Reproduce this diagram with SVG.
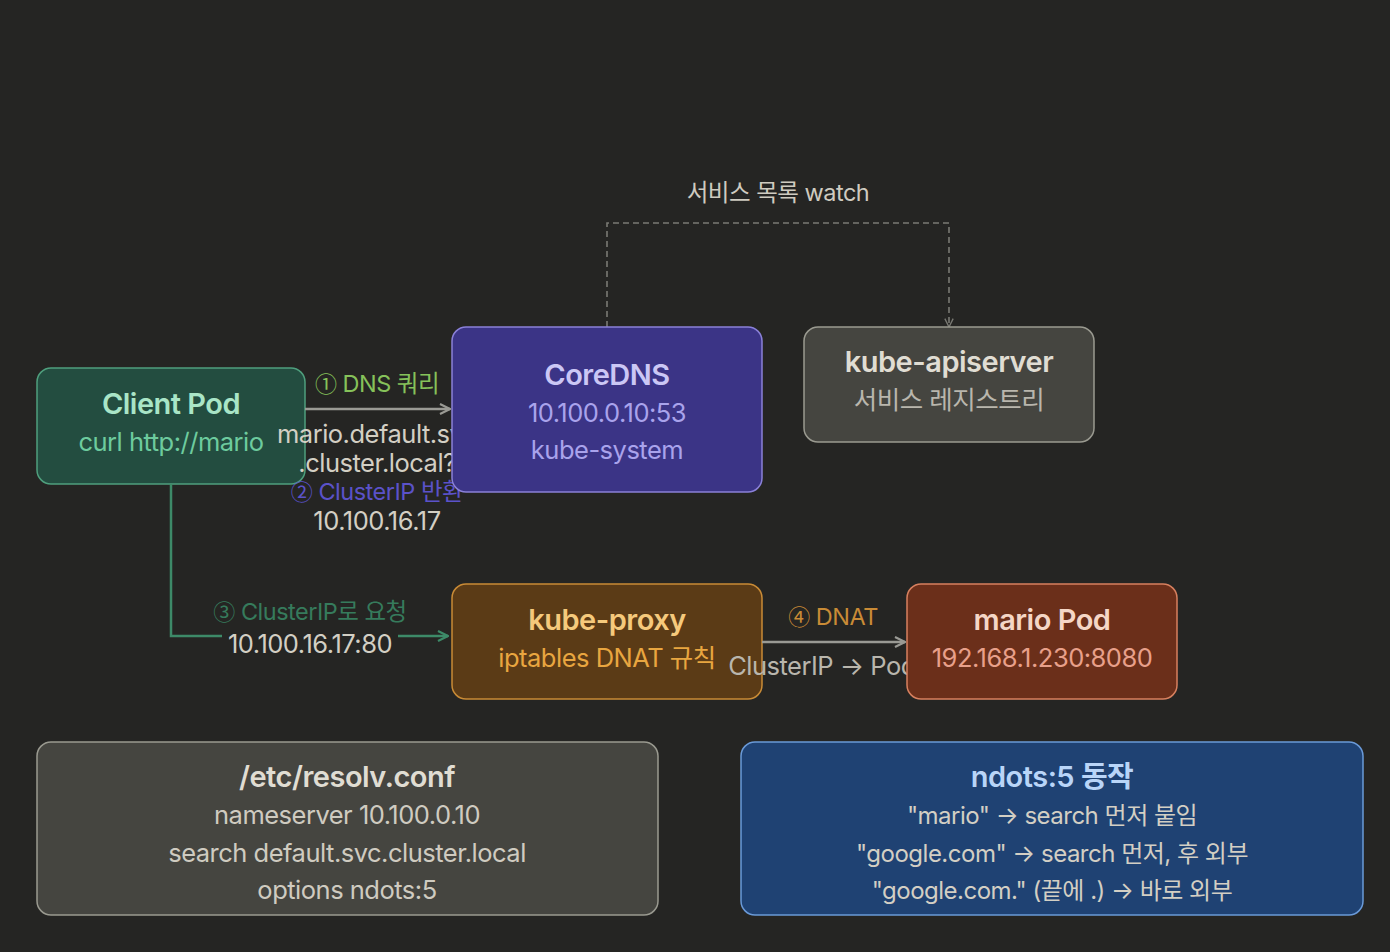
<svg xmlns="http://www.w3.org/2000/svg" width="1390" height="952" viewBox="0 0 1390 952">
<defs>
<style>
text{font-family:Inter,"Noto Sans","Noto Sans CJK KR",sans-serif;text-anchor:middle;letter-spacing:-0.5px}
.t{font-size:29px;font-weight:600}
.s{font-size:25.5px}
.s2{font-size:24px}
.lbl{font-size:23.5px}
.n{font-family:"Noto Sans CJK KR",sans-serif;font-size:22px}
</style>
<marker id="ag" viewBox="0 0 12 12" refX="11" refY="6" markerWidth="12" markerHeight="12" markerUnits="userSpaceOnUse" orient="auto"><path d="M1 1 L11 6 L1 11" fill="none" stroke="#9a9a94" stroke-width="2.2"/></marker>
<marker id="agr" viewBox="0 0 12 12" refX="11" refY="6" markerWidth="12" markerHeight="12" markerUnits="userSpaceOnUse" orient="auto"><path d="M1 1 L11 6 L1 11" fill="none" stroke="#3d8a68" stroke-width="2.2"/></marker>
<marker id="ad" viewBox="0 0 12 12" refX="11" refY="6" markerWidth="10" markerHeight="10" markerUnits="userSpaceOnUse" orient="auto"><path d="M1 1 L11 6 L1 11" fill="none" stroke="#7a7a74" stroke-width="1.6"/></marker>
</defs>
<rect width="1390" height="952" fill="#252523"/>

<g id="client-pod">
<rect x="37" y="368" width="268" height="116" rx="14" fill="#234d40" stroke="#4f9f7d" stroke-width="1.5"/>
<text class="t" x="171" y="414" fill="#a9e5c7">Client Pod</text>
<text class="s" x="171" y="451" fill="#6dcb9e">curl http://mario</text>
</g>

<g id="kube-proxy">
<rect x="452" y="584" width="310" height="115" rx="14" fill="#5b3b16" stroke="#c98b36" stroke-width="1.5"/>
<text class="t" x="607" y="630" fill="#f5c97c">kube-proxy</text>
<text class="s" x="607" y="667" fill="#e9a640">iptables DNAT 규칙</text>
</g>

<g id="connectors">
<path d="M305 409 H450" fill="none" stroke="#9a9a94" stroke-width="2.5" marker-end="url(#ag)"/>
<text class="lbl" x="377" y="392" fill="#86c25a"><tspan class="n">①</tspan> DNS 쿼리</text>
<text class="s" x="377" y="443" fill="#d3cfc4">mario.default.svc</text>
<text class="s" x="377" y="472" fill="#d3cfc4">.cluster.local?</text>
<text class="lbl" x="377" y="500" fill="#5b52c9"><tspan class="n">②</tspan> ClusterIP 반환</text>
<text class="s" x="377" y="530" fill="#d3cfc4">10.100.16.17</text>

<path d="M171 484 V636 H448" fill="none" stroke="#3d8a68" stroke-width="2.5" marker-end="url(#agr)"/>
<rect x="222" y="626" width="176" height="28" fill="#252523"/>
<text class="lbl" x="310" y="620" fill="#367b5c"><tspan class="n">③</tspan> ClusterIP로 요청</text>
<text class="s" x="310" y="653" fill="#d3cfc4">10.100.16.17:80</text>

<path d="M762 642 H905" fill="none" stroke="#9a9a94" stroke-width="2.5" marker-end="url(#ag)"/>
<text class="lbl" x="833" y="625" fill="#c98b36"><tspan class="n">④</tspan> DNAT</text>
<text class="s" x="822" y="675" fill="#b9b6ad">ClusterIP → Pod</text>

<path d="M607 327 V223 H949 V327" fill="none" stroke="#7a7a74" stroke-width="1.6" stroke-dasharray="6 4" marker-end="url(#ad)"/>
<text class="lbl" x="778" y="201" fill="#cfcbc0">서비스 목록 watch</text>
</g>

<g id="coredns">
<rect x="452" y="327" width="310" height="165" rx="14" fill="#3b3486" stroke="#8a80d8" stroke-width="1.5"/>
<text class="t" x="607" y="385" fill="#cbc7f5">CoreDNS</text>
<text class="s" x="607" y="422" fill="#a9a3ec">10.100.0.10:53</text>
<text class="s" x="607" y="459" fill="#a9a3ec">kube-system</text>
</g>

<g id="kube-apiserver">
<rect x="804" y="327" width="290" height="115" rx="14" fill="#454540" stroke="#9a9a90" stroke-width="1.5"/>
<text class="t" x="949" y="372" fill="#e0ddd3">kube-apiserver</text>
<text class="s" x="949" y="409" fill="#b9b6ad">서비스 레지스트리</text>
</g>

<g id="mario-pod">
<rect x="907" y="584" width="270" height="115" rx="14" fill="#6b2f1a" stroke="#d7805f" stroke-width="1.5"/>
<text class="t" x="1042" y="630" fill="#f5d6c6">mario Pod</text>
<text class="s" x="1042" y="667" fill="#e8a08a">192.168.1.230:8080</text>
</g>

<g id="resolv-conf">
<rect x="37" y="742" width="621" height="173" rx="14" fill="#454540" stroke="#9a9a90" stroke-width="1.5"/>
<text class="t" x="347" y="787" fill="#e0ddd3">/etc/resolv.conf</text>
<text class="s" x="347" y="824" fill="#cfcbc0">nameserver 10.100.0.10</text>
<text class="s" x="347" y="862" fill="#cfcbc0">search default.svc.cluster.local</text>
<text class="s" x="347" y="899" fill="#cfcbc0">options ndots:5</text>
</g>

<g id="ndots">
<rect x="741" y="742" width="622" height="173" rx="14" fill="#1f4273" stroke="#6a9ad8" stroke-width="1.5"/>
<text class="t" x="1052" y="787" fill="#b9d5f8">ndots:5 동작</text>
<text class="s2" x="1052" y="824" fill="#d3cfc4">"mario" → search 먼저 붙임</text>
<text class="s2" x="1052" y="862" fill="#d3cfc4">"google.com" → search 먼저, 후 외부</text>
<text class="s2" x="1052" y="899" fill="#d3cfc4">"google.com." (끝에 .) → 바로 외부</text>
</g>
</svg>
